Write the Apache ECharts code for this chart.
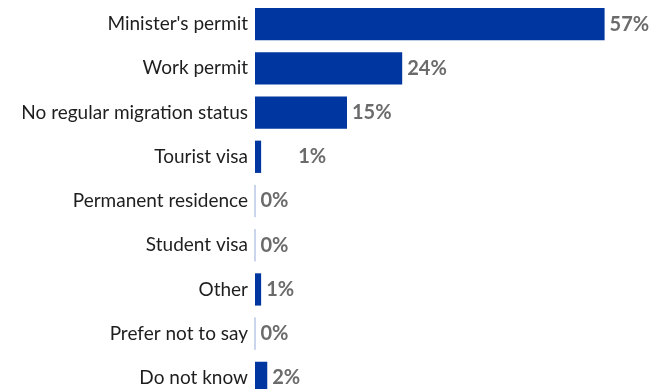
<!DOCTYPE html>
<html>
<head>
<meta charset="utf-8">
<script src="https://cdn.jsdelivr.net/npm/echarts@6/dist/echarts.min.js"></script>
<style>
  html, body { margin: 0; padding: 0; background: #ffffff; }
  #chart { width: 664px; height: 389px; }
</style>
</head>
<body>
<div id="chart"></div>
<script>
// Migration status of respondents (share, %)
const categories = [
  "Minister's permit",
  "Work permit",
  "No regular migration status",
  "Tourist visa",
  "Permanent residence",
  "Student visa",
  "Other",
  "Prefer not to say",
  "Do not know"
];
const shares = [57, 24, 15, 1, 0, 0, 1, 0, 2];

const barColor = '#0036a0';
const zeroLineColor = '#b9c7e6';
const labelFont = 'Lato, "Open Sans", sans-serif';

const chart = echarts.init(document.getElementById('chart'), null, { renderer: 'canvas' });

const seriesData = shares.map((v, i) => {
  const item = { value: v };
  if (v === 0) {
    item.itemStyle = { borderColor: zeroLineColor, borderWidth: 1 };
  }
  if (categories[i] === 'Tourist visa') {
    item.label = { offset: [32, 0] };
  }
  return item;
});

chart.setOption({
  animation: false,
  grid: {
    left: 255, top: 2, width: 368, height: 398,
    containLabel: false,
    outerBoundsMode: 'none'
  },
  xAxis: {
    type: 'value',
    min: 0,
    max: 60,
    show: false
  },
  yAxis: {
    type: 'category',
    data: categories,
    inverse: true,
    axisLine: { show: false },
    axisTick: { show: false },
    splitLine: { show: false },
    axisLabel: {
      color: '#1e1e1e',
      fontFamily: labelFont,
      fontSize: 19,
      margin: 7
    }
  },
  series: [{
    type: 'bar',
    data: seriesData,
    barCategoryGap: '27%',
    itemStyle: { color: barColor },
    label: {
      show: true,
      position: 'right',
      distance: 5,
      formatter: p => p.value + '%',
      color: '#6b6b6b',
      fontFamily: labelFont,
      fontWeight: 'bold',
      fontSize: 20
    }
  }]
});
</script>
</body>
</html>
